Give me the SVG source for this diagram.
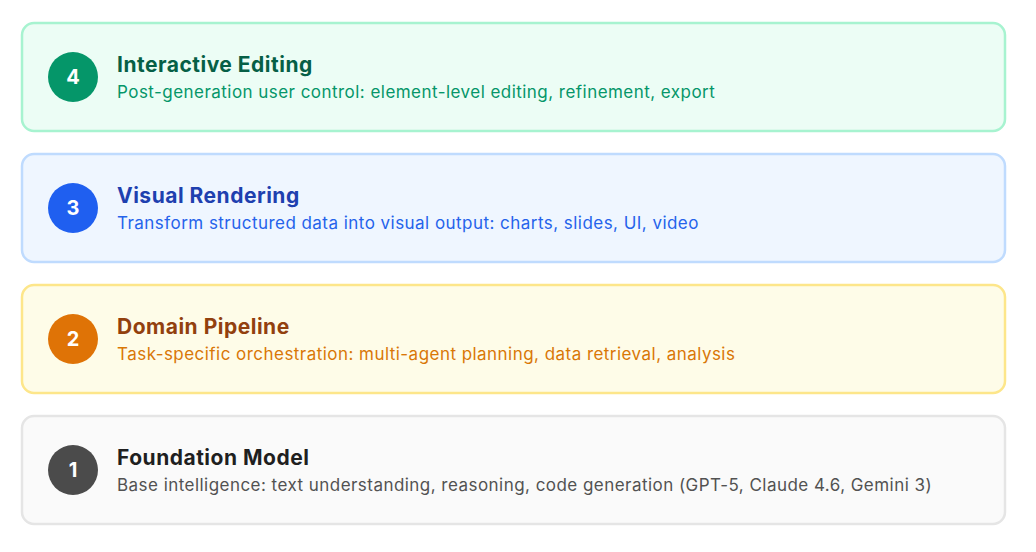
<svg xmlns="http://www.w3.org/2000/svg" width="1036" height="552" viewBox="0 0 1036 552">
<style>
  .box { stroke-width: 2.5; }
  .num { font-family: Inter, "Noto Sans", "Liberation Sans", sans-serif; font-size: 20px; font-weight: 700; fill: #ffffff; text-anchor: middle; }
  .title { font-family: Inter, "Noto Sans", "Liberation Sans", sans-serif; font-size: 21px; font-weight: 700; letter-spacing: 0.5px; }
  .sub { font-family: Inter, "Noto Sans", "Liberation Sans", sans-serif; font-size: 17px; font-weight: 400; letter-spacing: 0.46px; }
</style>
<rect width="1036" height="552" fill="#ffffff"/>
<g id="layer4">
  <rect class="box" x="22" y="23" width="983" height="108" rx="12" fill="#ecfdf5" stroke="#a7f3d0"/>
  <circle cx="73" cy="77" r="25" fill="#059669"/>
  <text class="num" x="73" y="84">4</text>
  <text class="title" x="117" y="72" fill="#065f46">Interactive Editing</text>
  <text class="sub" x="117" y="98" fill="#059669">Post-generation user control: element-level editing, refinement, export</text>
</g>
<g id="layer3">
  <rect class="box" x="22" y="154" width="983" height="108" rx="12" fill="#eff6ff" stroke="#bfdbfe"/>
  <circle cx="73" cy="208" r="25" fill="#1f5ff0"/>
  <text class="num" x="73" y="215">3</text>
  <text class="title" x="117" y="203" fill="#1e40af">Visual Rendering</text>
  <text class="sub" x="117" y="229" fill="#2563eb">Transform structured data into visual output: charts, slides, UI, video</text>
</g>
<g id="layer2">
  <rect class="box" x="22" y="285" width="983" height="108" rx="12" fill="#fefce8" stroke="#fde68a"/>
  <circle cx="73" cy="339" r="25" fill="#df7306"/>
  <text class="num" x="73" y="346">2</text>
  <text class="title" x="117" y="334" fill="#92400e">Domain Pipeline</text>
  <text class="sub" x="117" y="360" fill="#d97706">Task-specific orchestration: multi-agent planning, data retrieval, analysis</text>
</g>
<g id="layer1">
  <rect class="box" x="22" y="416" width="983" height="108" rx="12" fill="#fafafa" stroke="#e5e5e5"/>
  <circle cx="73" cy="470" r="25" fill="#4b4b4b"/>
  <text class="num" x="73" y="477">1</text>
  <text class="title" x="117" y="465" fill="#1f1f1f">Foundation Model</text>
  <text class="sub" x="117" y="491" fill="#525252">Base intelligence: text understanding, reasoning, code generation (GPT-5, Claude 4.6, Gemini 3)</text>
</g>
<g id="connectors"></g>
</svg>
